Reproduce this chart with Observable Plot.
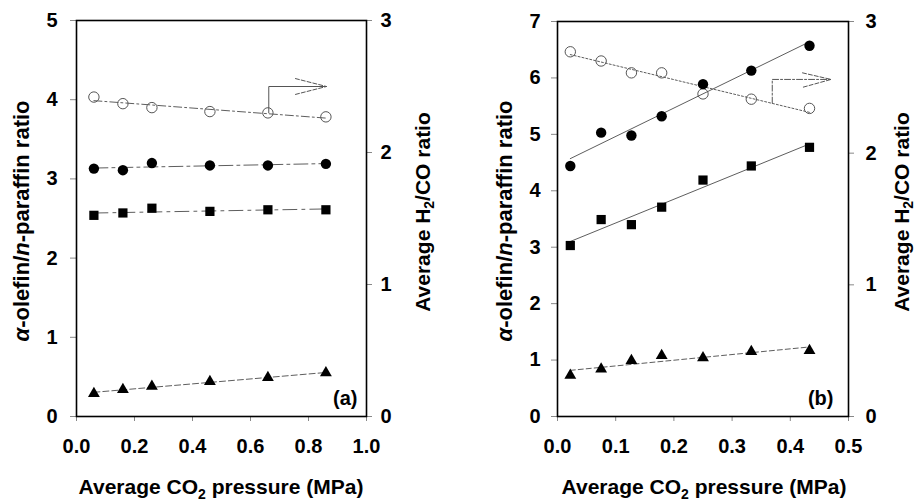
<!DOCTYPE html>
<html><head><meta charset="utf-8">
<script src="https://cdn.jsdelivr.net/npm/d3@7"></script>
<script src="https://cdn.jsdelivr.net/npm/@observablehq/plot@0.6"></script>
<style>
body{margin:0;background:#fff}
#wrap{display:flex;width:920px;height:502px;background:#fff}
</style>
</head><body><div id="wrap"></div>
<script>
// ---------- Panel (a) ----------
const xA = [0.06, 0.16, 0.26, 0.46, 0.66, 0.86];
const h2coA = [2.42, 2.37, 2.34, 2.31, 2.30, 2.27];   // right axis
const circA = [3.13, 3.11, 3.20, 3.17, 3.17, 3.19];
const sqA = [2.54, 2.57, 2.63, 2.59, 2.61, 2.61];
const triA = [0.29, 0.34, 0.38, 0.44, 0.49, 0.55];
const xTicksA = [0, 0.2, 0.4, 0.6, 0.8, 1.0];
const yTicksA = [0, 1, 2, 3, 4, 5];
const arrowPathA = [[0.663, 2.30], [0.663, 2.50], [0.862, 2.50]];
const arrowHeadA = [[0.755, 2.56], [0.862, 2.50], [0.755, 2.44]];

// ---------- Panel (b) ----------
const xB = [0.022, 0.075, 0.127, 0.179, 0.25, 0.333, 0.433];
const h2coB = [2.77, 2.70, 2.61, 2.61, 2.45, 2.41, 2.34]; // right axis
const circB = [4.44, 5.03, 4.98, 5.32, 5.89, 6.13, 6.57];
const sqB = [3.03, 3.49, 3.40, 3.71, 4.19, 4.44, 4.77];
const triB = [0.73, 0.84, 0.99, 1.08, 1.04, 1.15, 1.17];
const xTicksB = [0, 0.1, 0.2, 0.3, 0.4, 0.5];
const yTicksB = [0, 1, 2, 3, 4, 5, 6, 7];
const arrowPathB = [[0.369, 2.38], [0.369, 2.56], [0.47, 2.56]];
const arrowHeadB = [[0.421, 2.61], [0.47, 2.56], [0.421, 2.50]];

const rightTicks = [0, 1, 2, 3];
const FONT = "Liberation Sans, Arial, Helvetica, sans-serif";

function panel(o) {
  const k = o.yMax / 3;
  const data = o.xs.map((x, i) => ({x, h2: o.h2[i], circ: o.circ[i], sq: o.sq[i], tri: o.tri[i]}));
  const reg = (y, dash) => Plot.linearRegressionY(data, {x: "x", y, ci: 0, stroke: "#333", strokeWidth: 0.8, strokeDasharray: dash});
  const plot = Plot.plot({
    width: 460, height: 502,
    marginLeft: o.ml, marginRight: o.mr, marginTop: o.mt, marginBottom: 86,
    style: {fontFamily: FONT, fontWeight: "bold", fontSize: "20px", background: "white", color: "black"},
    x: {domain: o.xDomain},
    y: {domain: [0, o.yMax]},
    marks: [
      reg(d => d.h2 * k, o.dash[0]),
      reg("circ", o.dash[1]),
      reg("sq", o.dash[2]),
      reg("tri", o.dash[3]),
      Plot.line(o.arrowPath, {x: d => d[0], y: d => d[1] * k, stroke: "#555", strokeWidth: 1, strokeDasharray: o.arrowDash}),
      Plot.line(o.arrowHead, {x: d => d[0], y: d => d[1] * k, stroke: "#555", strokeWidth: 1, strokeDasharray: "4,2"}),
      Plot.dot(data, {x: "x", y: d => d.h2 * k, r: 5.2, stroke: "#555", strokeWidth: 1, fill: "none"}),
      Plot.dot(data, {x: "x", y: "circ", r: 5.2, fill: "black", stroke: "none"}),
      Plot.dot(data, {x: "x", y: "sq", r: 5.2, symbol: "square", fill: "black", stroke: "none"}),
      Plot.dot(data, {x: "x", y: "tri", r: 4.4, symbol: "triangle", fill: "black", stroke: "none"}),
      Plot.axisX({ticks: o.xTicks, tickFormat: d3.format(".1f"), tickSize: 5, tickPadding: 17, stroke: "#888", label: null, fontSize: 20, fontWeight: "bold"}),
      Plot.axisY({anchor: "left", ticks: o.yTicks, tickFormat: d3.format("d"), tickSize: 6, tickPadding: o.lpad, stroke: "#888", label: null, fontSize: 20, fontWeight: "bold"}),
      Plot.axisY({anchor: "right", ticks: rightTicks.map(v => v * k), tickFormat: d => d3.format("d")(Math.round(d / k)), tickSize: 5, tickPadding: o.rpad, stroke: "#888", label: null, fontSize: 20, fontWeight: "bold"}),
      Plot.frame({stroke: "black", strokeWidth: 1.6}),
      Plot.text([o.tag], {frameAnchor: "bottom-right", text: d => d, dx: o.tagDx, dy: -12, textAnchor: "end", lineAnchor: "bottom", fontSize: 20, fontWeight: "bold", fill: "black"})
    ]
  });
  const s = d3.select(plot);
  const g = s.append("g").attr("font-family", FONT).attr("font-weight", "bold").attr("fill", "black");
  // x label
  const xt = g.append("text").attr("x", o.xLabelX).attr("y", 494).attr("text-anchor", "middle").attr("font-size", 21);
  xt.append("tspan").text("Average CO");
  xt.append("tspan").attr("font-size", 14).attr("dy", 5).text("2");
  xt.append("tspan").attr("dy", -5).text(" pressure (MPa)");
  // left y label
  const yl = g.append("text").attr("transform", `translate(${o.yLeftX},221) rotate(-90)`).attr("text-anchor", "middle").attr("dy", "0.35em").attr("font-size", 22);
  yl.append("tspan").attr("font-style", "italic").text("α");
  yl.append("tspan").text("-olefin/");
  yl.append("tspan").attr("font-style", "italic").text("n");
  yl.append("tspan").text("-paraffin ratio");
  // right y label
  const yr = g.append("text").attr("transform", `translate(${o.yRightX},212) rotate(-90)`).attr("text-anchor", "middle").attr("dy", "0.35em").attr("font-size", 21);
  yr.append("tspan").text("Average H");
  yr.append("tspan").attr("font-size", 14).attr("dy", 4).text("2");
  yr.append("tspan").attr("dy", -4).text("/CO ratio");
  return plot;
}

const wrap = document.getElementById("wrap");
wrap.append(panel({
  xs: xA, h2: h2coA, circ: circA, sq: sqA, tri: triA,
  xDomain: [0, 1], yMax: 5, xTicks: xTicksA, yTicks: yTicksA,
  ml: 76, mr: 94, mt: 20, lpad: 13, rpad: 9,
  dash: ["8,3,2,3", "14,4,3,4", "14,5,3,5", "6,3"], arrowDash: null,
  arrowPath: arrowPathA, arrowHead: arrowHeadA,
  tag: "(a)", tagDx: -9,
  xLabelX: 221, yLeftX: 21, yRightX: 423
}));
wrap.append(panel({
  xs: xB, h2: h2coB, circ: circB, sq: sqB, tri: triB,
  xDomain: [0, 0.5], yMax: 7, xTicks: xTicksB, yTicks: yTicksB,
  ml: 97, mr: 72, mt: 21, lpad: 11, rpad: 12,
  dash: ["2,2", null, null, "5,3"], arrowDash: "6,2,2,2",
  arrowPath: arrowPathB, arrowHead: arrowHeadB,
  tag: "(b)", tagDx: -15,
  xLabelX: 244, yLeftX: 44, yRightX: 442
}));
</script></body></html>
